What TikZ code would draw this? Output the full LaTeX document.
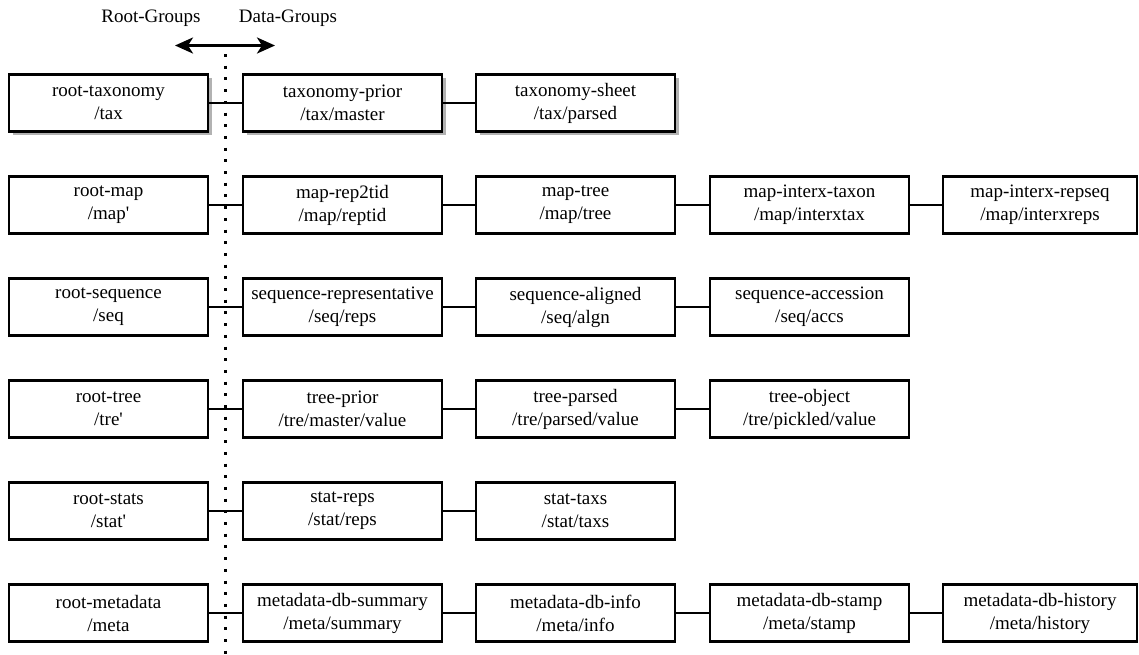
\documentclass[tikz,border=0pt]{standalone}
\usepackage{fontspec}
% plain ASCII quotes: no TeX-style quote mapping
\setmainfont{Liberation Serif}[Ligatures=TeXOff]
\usetikzlibrary{arrows.meta,shadows}
\begin{document}
\begin{tikzpicture}[x=1pt,y=-1pt,
  grp/.style={draw=black,fill=white,line width=2.8pt,minimum width=199pt,
    minimum height=57pt,inner sep=0pt,align=center,
    font=\fontsize{19}{23}\selectfont},
  shaded/.style={drop shadow={shadow xshift=3.5pt,shadow yshift=-3.5pt,
    fill=black!30,opacity=1}},
  link/.style={line width=2.8pt},
  lbl/.style={font=\fontsize{19}{23}\selectfont,inner sep=0pt}]
\useasboundingbox (0,0) rectangle (1139,654);

% column headings and divider
\node[lbl] (hroot) at (151,18) {Root-Groups};
\node[lbl] (hdata) at (288,18) {Data-Groups};
\coordinate (al) at (175,45.5);
\coordinate (ar) at (275,45.5);
\draw[line width=2.8pt,{Stealth[length=18pt,width=16pt,inset=5pt]}-{Stealth[length=18pt,width=16pt,inset=5pt]}] (al) -- (ar);
\coordinate (dtop) at (225.5,54);
\coordinate (dbot) at (225.5,660);
\draw[line width=3pt,dash pattern=on 3pt off 8.7pt] (dtop) -- (dbot);

% taxonomy
\node[grp,shaded] (t1) at (108.5,103) {root-taxonomy\\/tax};
\node[grp,shaded] (t2) at (342.5,103) {taxonomy-prior\\/tax/master};
\node[grp,shaded] (t3) at (575.5,103) {taxonomy-sheet\\/tax/parsed};
\draw[link] (t1) -- (t2);
\draw[link] (t2) -- (t3);

% map
\node[grp] (m1) at (108.5,205) {root-map\\/map'};
\node[grp] (m2) at (342.5,205) {map-rep2tid\\/map/reptid};
\node[grp] (m3) at (575.5,205) {map-tree\\/map/tree};
\node[grp] (m4) at (809.5,205) {map-interx-taxon\\/map/interxtax};
\node[grp,minimum width=194pt] (m5) at (1040,205) {map-interx-repseq\\/map/interxreps};
\draw[link] (m1) -- (m2);
\draw[link] (m2) -- (m3);
\draw[link] (m3) -- (m4);
\draw[link] (m4) -- (m5);

% sequence
\node[grp] (s1) at (108.5,307) {root-sequence\\/seq};
\node[grp] (s2) at (342.5,307) {sequence-representative\\/seq/reps};
\node[grp] (s3) at (575.5,307) {sequence-aligned\\/seq/algn};
\node[grp] (s4) at (809.5,307) {sequence-accession\\/seq/accs};
\draw[link] (s1) -- (s2);
\draw[link] (s2) -- (s3);
\draw[link] (s3) -- (s4);

% tree
\node[grp] (r1) at (108.5,409) {root-tree\\/tre'};
\node[grp] (r2) at (342.5,409) {tree-prior\\/tre/master/value};
\node[grp] (r3) at (575.5,409) {tree-parsed\\/tre/parsed/value};
\node[grp] (r4) at (809.5,409) {tree-object\\/tre/pickled/value};
\draw[link] (r1) -- (r2);
\draw[link] (r2) -- (r3);
\draw[link] (r3) -- (r4);

% stats
\node[grp] (a1) at (108.5,511) {root-stats\\/stat'};
\node[grp] (a2) at (342.5,511) {stat-reps\\/stat/reps};
\node[grp] (a3) at (575.5,511) {stat-taxs\\/stat/taxs};
\draw[link] (a1) -- (a2);
\draw[link] (a2) -- (a3);

% metadata
\node[grp] (d1) at (108.5,613) {root-metadata\\/meta};
\node[grp] (d2) at (342.5,613) {metadata-db-summary\\/meta/summary};
\node[grp] (d3) at (575.5,613) {metadata-db-info\\/meta/info};
\node[grp] (d4) at (809.5,613) {metadata-db-stamp\\/meta/stamp};
\node[grp,minimum width=194pt] (d5) at (1040,613) {metadata-db-history\\/meta/history};
\draw[link] (d1) -- (d2);
\draw[link] (d2) -- (d3);
\draw[link] (d3) -- (d4);
\draw[link] (d4) -- (d5);
\end{tikzpicture}
\end{document}
